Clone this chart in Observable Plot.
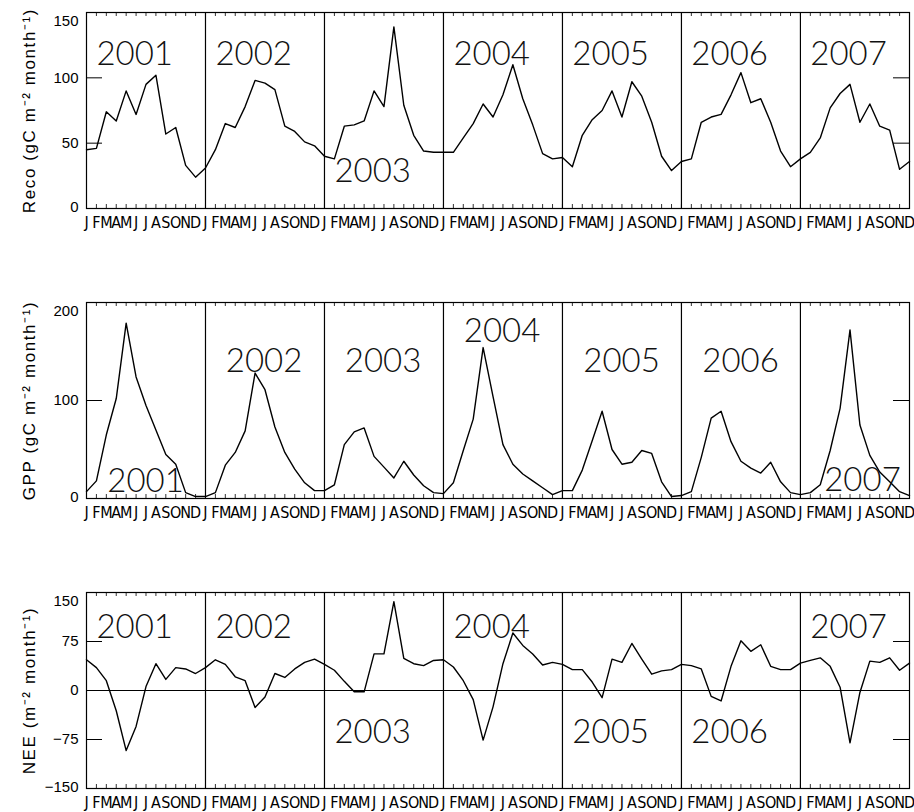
<!DOCTYPE html>
<html><head><meta charset="utf-8">
<script src="https://cdn.jsdelivr.net/npm/d3@7"></script>
<script src="https://cdn.jsdelivr.net/npm/@observablehq/plot@0.6"></script>
<style>
body{margin:0;background:#fff}
svg{display:block}
</style>
</head><body><div id="chart"></div>
<script>
// ---- data ----
const monthLetters = ["J","F","M","A","M","J","J","A","S","O","N","D"];
const years = [2001, 2002, 2003, 2004, 2005, 2006, 2007];

const reco = [
  45,46,74,67,90,72,95,102,57,62,33,24,
  31,45,65,62,78,98,96,91,63,59,51,48,
  40,38,63,64,67,90,78,139,79,56,44,43,
  43,43,54,65,80,70,87,110,84,64,42,38,
  39,32,56,68,75,90,70,97,86,66,40,29,
  36,38,66,70,72,87,104,81,84,66,44,32,
  38,43,54,77,88,95,66,80,63,60,30,36
];
const gpp = [
  7,18,65,102,179,124,95,70,45,35,6,2,
  2,6,34,47,69,128,111,73,47,30,16,8,
  8,14,55,68,72,43,32,21,38,24,13,6,
  5,16,49,81,154,104,55,35,25,18,11,4,
  8,8,29,59,89,50,35,37,49,46,17,2,
  3,7,42,82,89,58,38,31,26,37,17,6,
  4,6,14,49,92,172,75,44,27,17,7,3
];
const nee = [
  47,35,15,-31,-92,-55,6,41,17,35,33,26,
  35,47,40,21,15,-26,-10,26,20,33,43,48,
  40,31,14,-2,-2,56,56,136,49,41,38,46,
  47,36,15,-14,-76,-25,41,88,69,56,39,43,
  40,32,32,13,-11,48,43,72,48,25,30,32,
  40,38,33,-9,-16,37,76,60,70,37,32,32,
  42,46,50,37,5,-80,-3,45,43,50,31,42
];

const recoTicks = [0, 50, 100, 150];
const gppTicks = [0, 100, 200];
const neeTicks = [-150, -75, 0, 75, 150];

// year label placement (month offset within year, y value of baseline)
const recoYearPos = [[1,110],[1,110],[1,20],[1,110],[1,110],[1,110],[1,110]];
const gppYearPos  = [[2.1,6.5],[2.05,129],[2.05,129],[2.05,159.5],[2.1,129],[2.1,129],[2.4,8]];
const neeYearPos  = [[1,79.6],[1,79.6],[1,-81],[1,79.6],[1,-81],[1,-81],[1,79.6]];

// ---- drawing ----
const W = 914, ML = 86, MR = 5, MT = 12, FH = 196;
const FW = W - ML - MR;
const monthIdx = d3.range(84);
const yearStarts = years.slice(1).map((y, i) => (i + 1) * 12);
const fmt = d => String(d).replace("-", "\u2212");
const mainFont = "'Liberation Sans', Arial, sans-serif";
const monthFont = "'Liberation Sans Narrow', 'DejaVu Sans Condensed', 'Roboto Condensed', 'Liberation Sans', sans-serif";

function panel({values, domain, ticks, label, yearPos, height, zero}) {
  const yearLabels = years.map((yr, i) => ({text: String(yr), x: i * 12 + yearPos[i][0], y: yearPos[i][1]}));
  const midTicks = ticks.slice(1, -1);
  const svg = Plot.plot({
    width: W, height,
    marginLeft: ML, marginRight: MR, marginTop: MT, marginBottom: height - MT - FH,
    style: {fontFamily: mainFont, fontSize: "15px", color: "#000", background: "#fff"},
    x: {domain: [0, 83], axis: null},
    y: {domain, axis: null},
    marks: [
      zero ? Plot.ruleY([0], {stroke: "#000", strokeWidth: 1}) : null,
      Plot.ruleX(yearStarts, {stroke: "#000", strokeWidth: 1.2}),
      Plot.tickX(monthIdx, {x: d => d, insetTop: FH - 4, stroke: "#000", strokeWidth: 0.8}),
      Plot.tickX(monthIdx, {x: d => d, insetBottom: FH - 4, stroke: "#000", strokeWidth: 0.8}),
      Plot.tickY(ticks, {y: d => d, insetRight: FW - 16, stroke: "#000"}),
      Plot.tickY(ticks, {y: d => d, insetLeft: FW - 16, stroke: "#000"}),
      Plot.frame({stroke: "#000", strokeWidth: 1.2}),
      Plot.line(values, {x: (d, i) => i, y: d => d, stroke: "#000", strokeWidth: 1.4}),
      Plot.text(yearLabels, {x: "x", y: "y", text: "text", textAnchor: "start", lineAnchor: "bottom",
        fontSize: 33, fontWeight: 300, fontFamily: "Lato, 'Liberation Sans', sans-serif", fill: "#111"}),
      Plot.text(monthIdx, {x: d => d, text: d => monthLetters[d % 12], frameAnchor: "bottom",
        lineAnchor: "top", dy: 8, fontSize: 16, fontFamily: monthFont}),
      Plot.text([ticks[0]], {y: d => d, text: fmt, frameAnchor: "left", textAnchor: "end", lineAnchor: "bottom", dx: -8, dy: 3}),
      Plot.text([ticks[ticks.length - 1]], {y: d => d, text: fmt, frameAnchor: "left", textAnchor: "end", lineAnchor: "top", dx: -8, dy: 3}),
      Plot.text(midTicks, {y: d => d, text: fmt, frameAnchor: "left", textAnchor: "end", lineAnchor: "middle", dx: -8}),
      Plot.text([label], {frameAnchor: "left", textAnchor: "middle", lineAnchor: "middle", dx: -57, rotate: -90, fontSize: 17})
    ]
  });
  d3.select(svg).selectAll("text").filter(function() { return this.textContent === label; })
    .attr("letter-spacing", "1.6px");
  return svg;
}

const root = document.getElementById("chart");
root.append(panel({values: reco, domain: [0, 150], ticks: recoTicks,
  label: "Reco (gC m\u207B\u00B2 month\u207B\u00B9)", yearPos: recoYearPos, height: 290}));
root.append(panel({values: gpp, domain: [0, 200], ticks: gppTicks,
  label: "GPP (gC m\u207B\u00B2 month\u207B\u00B9)", yearPos: gppYearPos, height: 290}));
root.append(panel({values: nee, domain: [-150, 150], ticks: neeTicks,
  label: "NEE (m\u207B\u00B2 month\u207B\u00B9)", yearPos: neeYearPos, height: 232, zero: true}));
</script>
</body></html>
